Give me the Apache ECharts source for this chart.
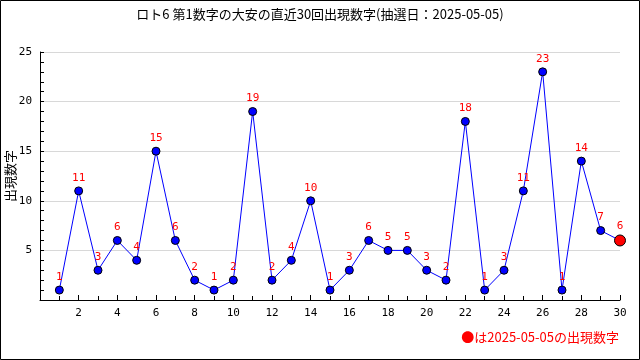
<!DOCTYPE html>
<html><head><meta charset="utf-8">
<script src="https://cdn.jsdelivr.net/npm/echarts@6/dist/echarts.min.js"></script>
<style>html,body{margin:0;padding:0;background:#fff}#c{width:640px;height:360px}</style>
</head><body><div id="c"></div>
<script>
const titleText = 'ロト6 第1数字の大安の直近30回出現数字(抽選日：2025-05-05)';
const yAxisName = '出現数字';
const noteText = '●は2025-05-05の出現数字';
const drawIndex = [1,2,3,4,5,6,7,8,9,10,11,12,13,14,15,16,17,18,19,20,21,22,23,24,25,26,27,28,29,30];
const values = [1,11,3,6,4,15,6,2,1,2,19,2,4,10,1,3,6,5,5,3,2,18,1,3,11,23,1,14,7,6];
const highlightIndex = 29;

const numFont = 'DejaVu Sans Mono';
const data = drawIndex.map((x, i) => {
  const d = { value: [x, values[i]] };
  if (i === highlightIndex) {
    d.symbolSize = 11;
    d.itemStyle = { color: '#ff0000', borderColor: '#000', borderWidth: 1 };
  }
  return d;
});

const chart = echarts.init(document.getElementById('c'), null, { renderer: 'canvas' });
chart.setOption({
  animation: false,
  backgroundColor: '#fff',
  title: {
    text: titleText, left: 'center', top: 3,
    textStyle: { fontFamily: 'Noto Sans CJK JP', fontSize: 13, fontWeight: 'normal', color: '#000' }
  },
  grid: { left: 40, right: 20, top: 52, bottom: 60, containLabel: false, outerBoundsMode: 'none' },
  xAxis: {
    type: 'value', min: 0, max: 30, interval: 2,
    axisLine: { lineStyle: { color: '#000' } },
    axisTick: { inside: true, length: 5, lineStyle: { color: '#000' } },
    minorTick: { show: true, splitNumber: 2, length: 4, lineStyle: { color: '#000' } },
    splitLine: { show: false },
    axisLabel: { fontFamily: numFont, fontSize: 11, color: '#000', margin: 8,
      formatter: v => v === 0 ? '' : String(v) }
  },
  yAxis: {
    type: 'value', min: 0, max: 25, interval: 5,
    name: yAxisName, nameLocation: 'middle', nameGap: 23, nameRotate: 90,
    nameMoveOverlap: false,
    nameTextStyle: { fontFamily: 'Noto Sans CJK JP', fontSize: 13, color: '#000' },
    axisLine: { show: true, lineStyle: { color: '#000' } },
    axisTick: { show: true, inside: true, length: 4, lineStyle: { color: '#000' } },
    minorTick: { show: true, splitNumber: 5, length: 4, lineStyle: { color: '#000' } },
    splitLine: { show: true, lineStyle: { color: '#d8d8d8' } },
    axisLabel: { fontFamily: numFont, fontSize: 11, color: '#000', margin: 8,
      formatter: v => v === 0 ? '' : String(v) }
  },
  series: [{
    type: 'line', data: data,
    symbol: 'circle', symbolSize: 8,
    lineStyle: { color: '#0000ff', width: 1 },
    itemStyle: { color: '#0000ff', borderColor: '#000', borderWidth: 1 },
    label: { show: true, position: 'top', distance: 3, color: '#ff0000',
      fontFamily: numFont, fontSize: 11,
      formatter: p => String(p.value[1]) }
  }],
  graphic: [
    { type: 'rect', shape: { x: 0.5, y: 0.5, width: 639, height: 359 },
      style: { fill: 'none', stroke: '#000', lineWidth: 1 }, silent: true },
    { type: 'text', right: 21, top: 331,
      style: { text: noteText, fill: '#ff0000', font: '13px "Noto Sans CJK JP"' } }
  ]
});
</script></body></html>
